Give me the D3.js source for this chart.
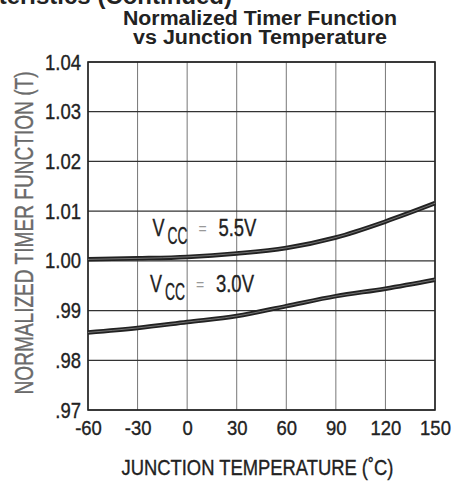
<!DOCTYPE html>
<html>
<head>
<meta charset="utf-8">
<script src="https://cdn.jsdelivr.net/npm/d3@7"></script>
<style>
  body { margin: 0; background: #fff; }
  text { fill: #222; }
  .narrow { font-family: "Liberation Sans", Arial, sans-serif; stroke: #222; stroke-width: 0.35px; }
  .title { font-family: "Liberation Sans", Arial, sans-serif; font-weight: bold; }
</style>
</head>
<body>
<div id="chart"></div>
<script>
(function() {
  'use strict';
  var WIDTH = 461;
  var HEIGHT = 491;

  // temperatures (deg C) where the curves were read
  var temps = [-60, -30, 0, 30, 60, 90, 120, 150];
  var vcc55 = [1.0003, 1.0005, 1.0008, 1.0015, 1.0026, 1.0047, 1.0079, 1.0116];
  var vcc30 = [0.9856, 0.9865, 0.9877, 0.9889, 0.9909, 0.9929, 0.9944, 0.9962];
  var xTicks = [-60, -30, 0, 30, 60, 90, 120, 150];
  var yTicks = [0.97, 0.98, 0.99, 1.00, 1.01, 1.02, 1.03, 1.04];
  var yTickLabels = ['.97', '.98', '.99', '1.00', '1.01', '1.02', '1.03', '1.04'];
  var curveLabels = [
    {text: '5.5V', temp: -21, value: 1.0049},
    {text: '3.0V', temp: -22.5, value: 0.9938}
  ];

  var margin = {top: 62, right: 26, bottom: 81, left: 88};
  var width = WIDTH - margin.left - margin.right;
  var height = HEIGHT - margin.top - margin.bottom;

  // squeeze text horizontally (the datasheet uses a condensed face)
  function condense(sel, f) {
    sel.each(function() {
      var w = this.getComputedTextLength();
      d3.select(this).attr('textLength', w * f).attr('lengthAdjust', 'spacingAndGlyphs');
    });
  }

  var svg = d3.select('#chart').append('svg')
    .attr('width', WIDTH)
    .attr('height', HEIGHT);

  // clipped page header left over from the datasheet
  svg.append('text')
    .attr('class', 'title')
    .attr('x', 232)
    .attr('y', 4)
    .attr('text-anchor', 'end')
    .style('font-size', '24px')
    .text('Characteristics (Continued)');

  svg.append('text')
    .attr('class', 'title')
    .attr('x', 260)
    .attr('y', 25)
    .attr('text-anchor', 'middle')
    .style('font-size', '20px')
    .attr('textLength', 274)
    .attr('lengthAdjust', 'spacingAndGlyphs')
    .text('Normalized Timer Function');
  svg.append('text')
    .attr('class', 'title')
    .attr('x', 260)
    .attr('y', 44)
    .attr('text-anchor', 'middle')
    .style('font-size', '20px')
    .attr('textLength', 254)
    .attr('lengthAdjust', 'spacingAndGlyphs')
    .text('vs Junction Temperature');

  var g = svg.append('g')
    .attr('transform', 'translate(' + margin.left + ',' + margin.top + ')');

  var x = d3.scaleLinear().domain([-60, 150]).range([0, width]);
  var y = d3.scaleLinear().domain([0.97, 1.04]).range([height, 0]);

  // grid
  g.append('g').selectAll('line').data(xTicks).enter().append('line')
    .attr('x1', function(d) { return x(d); })
    .attr('x2', function(d) { return x(d); })
    .attr('y1', 0).attr('y2', height)
    .attr('stroke', '#777').attr('stroke-width', 1);
  g.append('g').selectAll('line').data(yTicks).enter().append('line')
    .attr('y1', function(d) { return y(d); })
    .attr('y2', function(d) { return y(d); })
    .attr('x1', 0).attr('x2', width)
    .attr('stroke', '#333').attr('stroke-width', 1.2);

  g.append('rect')
    .attr('width', width).attr('height', height)
    .attr('fill', 'none').attr('stroke', '#222').attr('stroke-width', 1.6);

  // axes (labels only)
  var xAxis = g.append('g')
    .attr('transform', 'translate(0,' + height + ')')
    .call(d3.axisBottom(x).tickValues(xTicks).tickSize(0).tickPadding(10)
      .tickFormat(function(d) { return String(d); }));
  xAxis.select('.domain').remove();
  xAxis.selectAll('text')
    .attr('class', 'narrow')
    .style('font-size', '21px')
    .style('fill', '#222');
  condense(xAxis.selectAll('text'), 0.88);

  var yAxis = g.append('g')
    .call(d3.axisLeft(y).tickValues(yTicks).tickSize(0).tickPadding(7)
      .tickFormat(function(d, i) { return yTickLabels[i]; }));
  yAxis.select('.domain').remove();
  yAxis.selectAll('text')
    .attr('class', 'narrow')
    .style('font-size', '22px')
    .style('fill', '#222');
  condense(yAxis.selectAll('text'), 0.84);

  // curves
  var line = d3.line()
    .x(function(d) { return x(d[0]); })
    .y(function(d) { return y(d[1]); })
    .curve(d3.curveMonotoneX);

  [vcc55, vcc30].forEach(function(series) {
    var pts = temps.map(function(t, i) { return [t, series[i]]; });
    g.append('path').datum(pts)
      .attr('d', line)
      .attr('fill', 'none')
      .attr('stroke', '#222')
      .attr('stroke-width', 4.5);
    g.append('path').datum(pts)
      .attr('d', line)
      .attr('fill', 'none')
      .attr('stroke', '#999')
      .attr('stroke-width', 0.7);
  });

  // curve labels: V, subscript CC, faint '=', value
  curveLabels.forEach(function(c) {
    var x0 = x(c.temp), y0 = y(c.value);
    var lab = g.append('g').attr('class', 'narrow');
    lab.append('text').attr('x', x0).attr('y', y0)
      .style('font-size', '23.5px').attr('textLength', 12).attr('lengthAdjust', 'spacingAndGlyphs')
      .text('V');
    lab.append('text').attr('x', x0 + 15).attr('y', y0 + 8)
      .style('font-size', '23.5px').attr('textLength', 20).attr('lengthAdjust', 'spacingAndGlyphs')
      .text('CC');
    lab.append('text').attr('x', x0 + 46).attr('y', y0 - 2)
      .style('font-size', '14px').style('fill', '#999').style('stroke', 'none')
      .text('=');
    lab.append('text').attr('x', x0 + 66).attr('y', y0)
      .style('font-size', '23.5px').attr('textLength', 38).attr('lengthAdjust', 'spacingAndGlyphs')
      .text(c.text);
  });

  // axis titles
  svg.append('text')
    .attr('class', 'narrow')
    .attr('x', 257.5)
    .attr('y', 475)
    .attr('text-anchor', 'middle')
    .style('font-size', '21.5px')
    .attr('textLength', 272)
    .attr('lengthAdjust', 'spacingAndGlyphs')
    .text('JUNCTION TEMPERATURE (\u02DAC)');

  svg.append('text')
    .attr('class', 'narrow')
    .attr('transform', 'translate(33,233) rotate(-90)')
    .attr('text-anchor', 'middle')
    .style('font-size', '25px')
    .style('fill', '#6a6a6a')
    .style('stroke', '#6a6a6a')
    .attr('textLength', 323)
    .attr('lengthAdjust', 'spacingAndGlyphs')
    .text('NORMALIZED TIMER FUNCTION (T)');
})();
</script>
</body>
</html>
